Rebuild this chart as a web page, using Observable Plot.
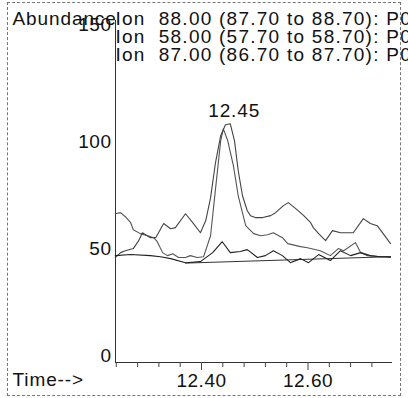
<!DOCTYPE html>
<html>
<head>
<meta charset="utf-8">
<script src="https://cdn.jsdelivr.net/npm/d3@7"></script>
<script src="https://cdn.jsdelivr.net/npm/@observablehq/plot@0.6"></script>
<style>
  html, body { margin: 0; padding: 0; background: white; }
  #wrap { position: relative; width: 408px; height: 398px; overflow: hidden; }
  #border { position: absolute; left: 7px; top: 2px; width: 392px; height: 392px;
            border: 1px dashed #777; pointer-events: none; }
  #wrap svg g[aria-label="text"] text { letter-spacing: 0.9px; }
  #wrap svg g[aria-label="text"].legend text { letter-spacing: 1.25px; }
  #wrap svg g[aria-label$="tick label"] text { letter-spacing: 0.5px; }
</style>
</head>
<body>
<div id="wrap"><div id="border"></div></div>
<script>
// ---- data ----
const ionLabels = [
  "Ion  88.00 (87.70 to 88.70): P0",
  "Ion  58.00 (57.70 to 58.70): P0",
  "Ion  87.00 (86.70 to 87.70): P0"
];
const yTicksLow = [0, 50, 100];
const yTicksTop = [150];
const xMinorTicks = [12.24, 12.28, 12.32, 12.36, 12.44, 12.48, 12.52, 12.56, 12.64, 12.68, 12.72];
const xMajorTicks = [12.40, 12.60];
const xDomain = [12.2385, 12.7587];
const yDomain = [0, 160];

const timeA = [12.238,12.248,12.257,12.267,12.272,12.285,12.299,12.310,12.317,12.327,12.336,12.346,12.357,12.370,12.379,12.392,12.404,12.417,12.426,12.436,12.441,12.449,12.460,12.469,12.483,12.498,12.511,12.524,12.535,12.552,12.562,12.586,12.599,12.623,12.642,12.657,12.667,12.689,12.699,12.712,12.736,12.755];
const abundA = [69.6,70.1,68.2,65.4,62.1,60.3,59.3,58.4,56.5,51.4,50.0,50.9,49.1,49.1,50.0,49.1,49.5,59.3,80.4,103.7,109.3,104.0,92.0,78.0,64.0,60.3,59.3,59.8,60.7,58.4,55.6,54.2,53.7,52.3,50.0,53.3,52.3,56.1,51.4,50.0,49.5,49.1];

const timeB = [12.238,12.248,12.257,12.272,12.282,12.289,12.304,12.314,12.329,12.342,12.351,12.370,12.385,12.398,12.408,12.417,12.426,12.436,12.445,12.454,12.462,12.469,12.477,12.486,12.492,12.501,12.515,12.530,12.539,12.554,12.563,12.577,12.592,12.605,12.610,12.620,12.633,12.646,12.661,12.676,12.685,12.704,12.717,12.730,12.755];
const abundB = [49.1,51.4,52.3,53.3,57.0,60.7,58.4,58.4,65.0,62.6,63.1,69.6,65.0,60.7,66.4,77.0,93.0,106.1,111.2,111.7,103.7,89.7,78.0,71.0,68.7,67.8,67.8,68.7,70.1,73.4,74.8,72.0,68.7,65.4,63.1,60.3,57.0,61.7,60.7,60.7,60.7,67.3,65.0,64.0,55.6];

const timeC = [12.238,12.267,12.304,12.323,12.342,12.370,12.398,12.421,12.439,12.454,12.473,12.486,12.505,12.520,12.535,12.552,12.567,12.586,12.601,12.620,12.642,12.661,12.680,12.699,12.717,12.736,12.755];
const abundC = [50.0,50.5,50.0,49.5,48.6,46.7,47.2,51.4,56.5,51.4,51.9,52.8,49.1,50.0,52.3,50.0,46.7,48.6,46.7,50.5,47.7,52.3,50.0,51.4,50.0,49.5,49.5];

const baseTime = [12.370, 12.755];
const baseAbund = [46.5, 49.5];

const peakTime = [12.452];
const peakAbund = [111.7];
const peakLabel = ["12.45"];

// ---- build tables ----
const toRows = (ts, vs, s) => ts.map((t, i) => ({t, v: vs[i], s}));
const traces = [
  ...toRows(timeA, abundA, "A"),
  ...toRows(timeB, abundB, "B"),
  ...toRows(timeC, abundC, "C")
];
const base = toRows(baseTime, baseAbund, "base");
const peaks = peakTime.map((t, i) => ({t, v: peakAbund[i], label: peakLabel[i]}));

const font = "'Liberation Sans', Arial, Helvetica, sans-serif";

const chart = Plot.plot({
  width: 408,
  height: 398,
  marginLeft: 115,
  marginRight: 16,
  marginTop: 20,
  marginBottom: 36,
  style: {fontFamily: font, fontSize: "19px", color: "#111", background: "transparent", overflow: "visible"},
  x: {domain: xDomain},
  y: {domain: yDomain},
  color: {domain: ["A", "B", "C"], range: ["#555", "#444", "#222"]},
  marks: [
    Plot.ruleX([xDomain[0]], {stroke: "#333", strokeWidth: 1}),
    Plot.ruleY([0], {stroke: "#333", strokeWidth: 1.2}),
    Plot.axisY(yTicksLow, {tickSize: 0, tickPadding: 4, dy: -7, fontSize: 19, label: null}),
    Plot.axisY(yTicksTop, {tickSize: 0, tickPadding: 4, dy: -17, fontSize: 19, label: null}),
    Plot.axisX(xMinorTicks, {tickSize: 5, tickFormat: () => "", label: null, stroke: "#444"}),
    Plot.axisX(xMajorTicks, {tickSize: 8, tickPadding: 3, tickFormat: d3.format(".2f"), fontSize: 19, label: null, stroke: "#444"}),
    Plot.line(base, {x: "t", y: "v", stroke: "#333", strokeWidth: 1}),
    Plot.line(traces, {x: "t", y: "v", z: "s", stroke: "s", strokeWidth: 1.1}),
    Plot.text(peaks, {x: "t", y: "v", text: "label", dx: 5, dy: -13, fontSize: 19, fill: "#111"}),
    Plot.text([ionLabels.join("\n")], {frameAnchor: "top-left", textAnchor: "start", lineAnchor: "top", dx: 0, dy: -8, lineHeight: 0.94, fontSize: 19, fill: "#111", className: "legend"}),
    Plot.text(["Abundance"], {frameAnchor: "top-left", textAnchor: "start", lineAnchor: "top", dx: -103, dy: -9, fontSize: 19, fill: "#111"}),
    Plot.text(["Time-->"], {frameAnchor: "bottom-left", textAnchor: "start", lineAnchor: "top", dx: -103, dy: 10, fontSize: 19, fill: "#111"})
  ]
});
document.getElementById("wrap").prepend(chart);
// tag the legend group for spacing (in case className is unsupported)
d3.select(chart).selectAll('g[aria-label="text"]').filter(function() {
  return this.textContent.startsWith("Ion");
}).classed("legend", true).style("white-space", "pre");
</script>
</body>
</html>
